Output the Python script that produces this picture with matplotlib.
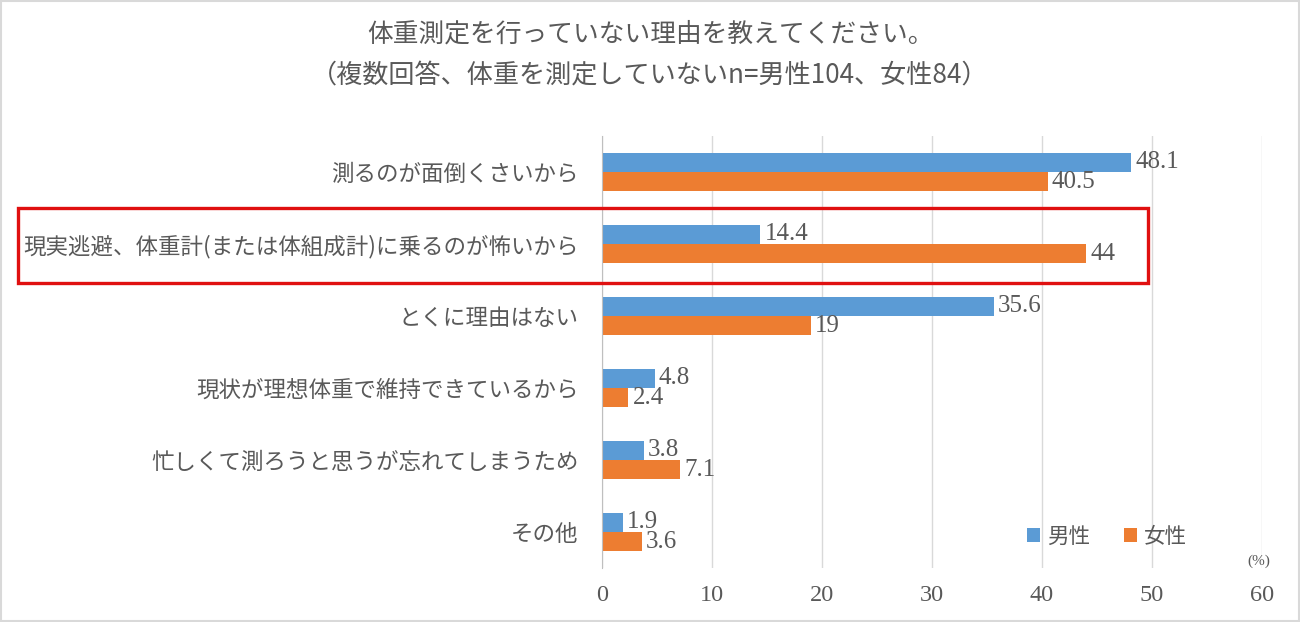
import numpy as np
import matplotlib.pyplot as plt
from matplotlib.patches import Rectangle

plt.rcParams['font.family'] = ['Noto Sans CJK JP', 'DejaVu Sans']

categories = ['測るのが面倒くさいから',
              '現実逃避、体重計(または体組成計)に乗るのが怖いから',
              'とくに理由はない',
              '現状が理想体重で維持できているから',
              '忙しくて測ろうと思うが忘れてしまうため',
              'その他']
male = [48.1, 14.4, 35.6, 4.8, 3.8, 1.9]
female = [40.5, 44, 19, 2.4, 7.1, 3.6]
series_names = ['男性', '女性']
xticks = [0, 10, 20, 30, 40, 50, 60]

blue = '#5B9BD5'
orange = '#ED7D31'
txt = '#595959'
num_font = 'Liberation Serif'

fig = plt.figure(figsize=(13, 6.22), dpi=100)
ax = fig.add_axes([602 / 1300, 1 - 568 / 622, 660 / 1300, 432 / 622])

y = np.arange(len(categories))
h = 0.264
b1 = ax.barh(y - h / 2, male, height=h, color=blue, label=series_names[0], zorder=3)
b2 = ax.barh(y + h / 2, female, height=h, color=orange, label=series_names[1], zorder=3)

for bars, vals in ((b1, male), (b2, female)):
    for bar, v in zip(bars, vals):
        ax.annotate(f'{v:g}', (bar.get_width(), bar.get_y() + bar.get_height() / 2),
                    xytext=(3, 0), textcoords='offset points', va='center', ha='left',
                    fontsize=18, color=txt, family=num_font)

ax.set_xlim(0, 60)
ax.set_ylim(len(categories) - 0.5, -0.5)
ax.set_xticks(xticks)
ax.set_xticklabels([str(t) for t in xticks], family=num_font, fontsize=17.5, color=txt)
ax.set_yticks(y)
ax.set_yticklabels(categories, fontsize=16.2, color=txt)
ax.tick_params(axis='both', length=0)
ax.tick_params(axis='x', pad=12)
ax.tick_params(axis='y', pad=17)
ax.grid(axis='x', color='#d9d9d9', linewidth=1, zorder=0)
for s in ['top', 'right', 'bottom']:
    ax.spines[s].set_visible(False)
ax.spines['left'].set_color('#bfbfbf')
ax.spines['left'].set_zorder(4)

ax.text(0.995, 0.0, '(%)', transform=ax.transAxes, ha='center', va='bottom',
        fontsize=11, color=txt, family=num_font)

leg = ax.legend(loc='center', bbox_to_anchor=(0.765, 0.072), ncol=2, frameon=False,
                handlelength=0.6, handleheight=0.6, handletextpad=0.3,
                columnspacing=1.6, prop={'size': 15.5})
for t in leg.get_texts():
    t.set_color(txt)

fig.text(0.5, 1 - 35 / 622, '体重測定を行っていない理由を教えてください。',
         ha='center', va='center', fontsize=18.5, color=txt)
fig.text(0.5, 1 - 75 / 622, '（複数回答、体重を測定していないn=男性104、女性84）',
         ha='center', va='center', fontsize=18.8, color=txt)

# highlight box
fig.patches.append(Rectangle((18 / 1300, 1 - 283 / 622), 1130 / 1300, 75 / 622,
                             transform=fig.transFigure, fill=False,
                             edgecolor='#E01010', linewidth=2.4, zorder=10))
# outer frame
fig.patches.append(Rectangle((0.001, 0.002), 0.998, 0.996, transform=fig.transFigure,
                             fill=False, edgecolor='#d9d9d9', linewidth=1.5))

fig.savefig('out.png', dpi=100)
